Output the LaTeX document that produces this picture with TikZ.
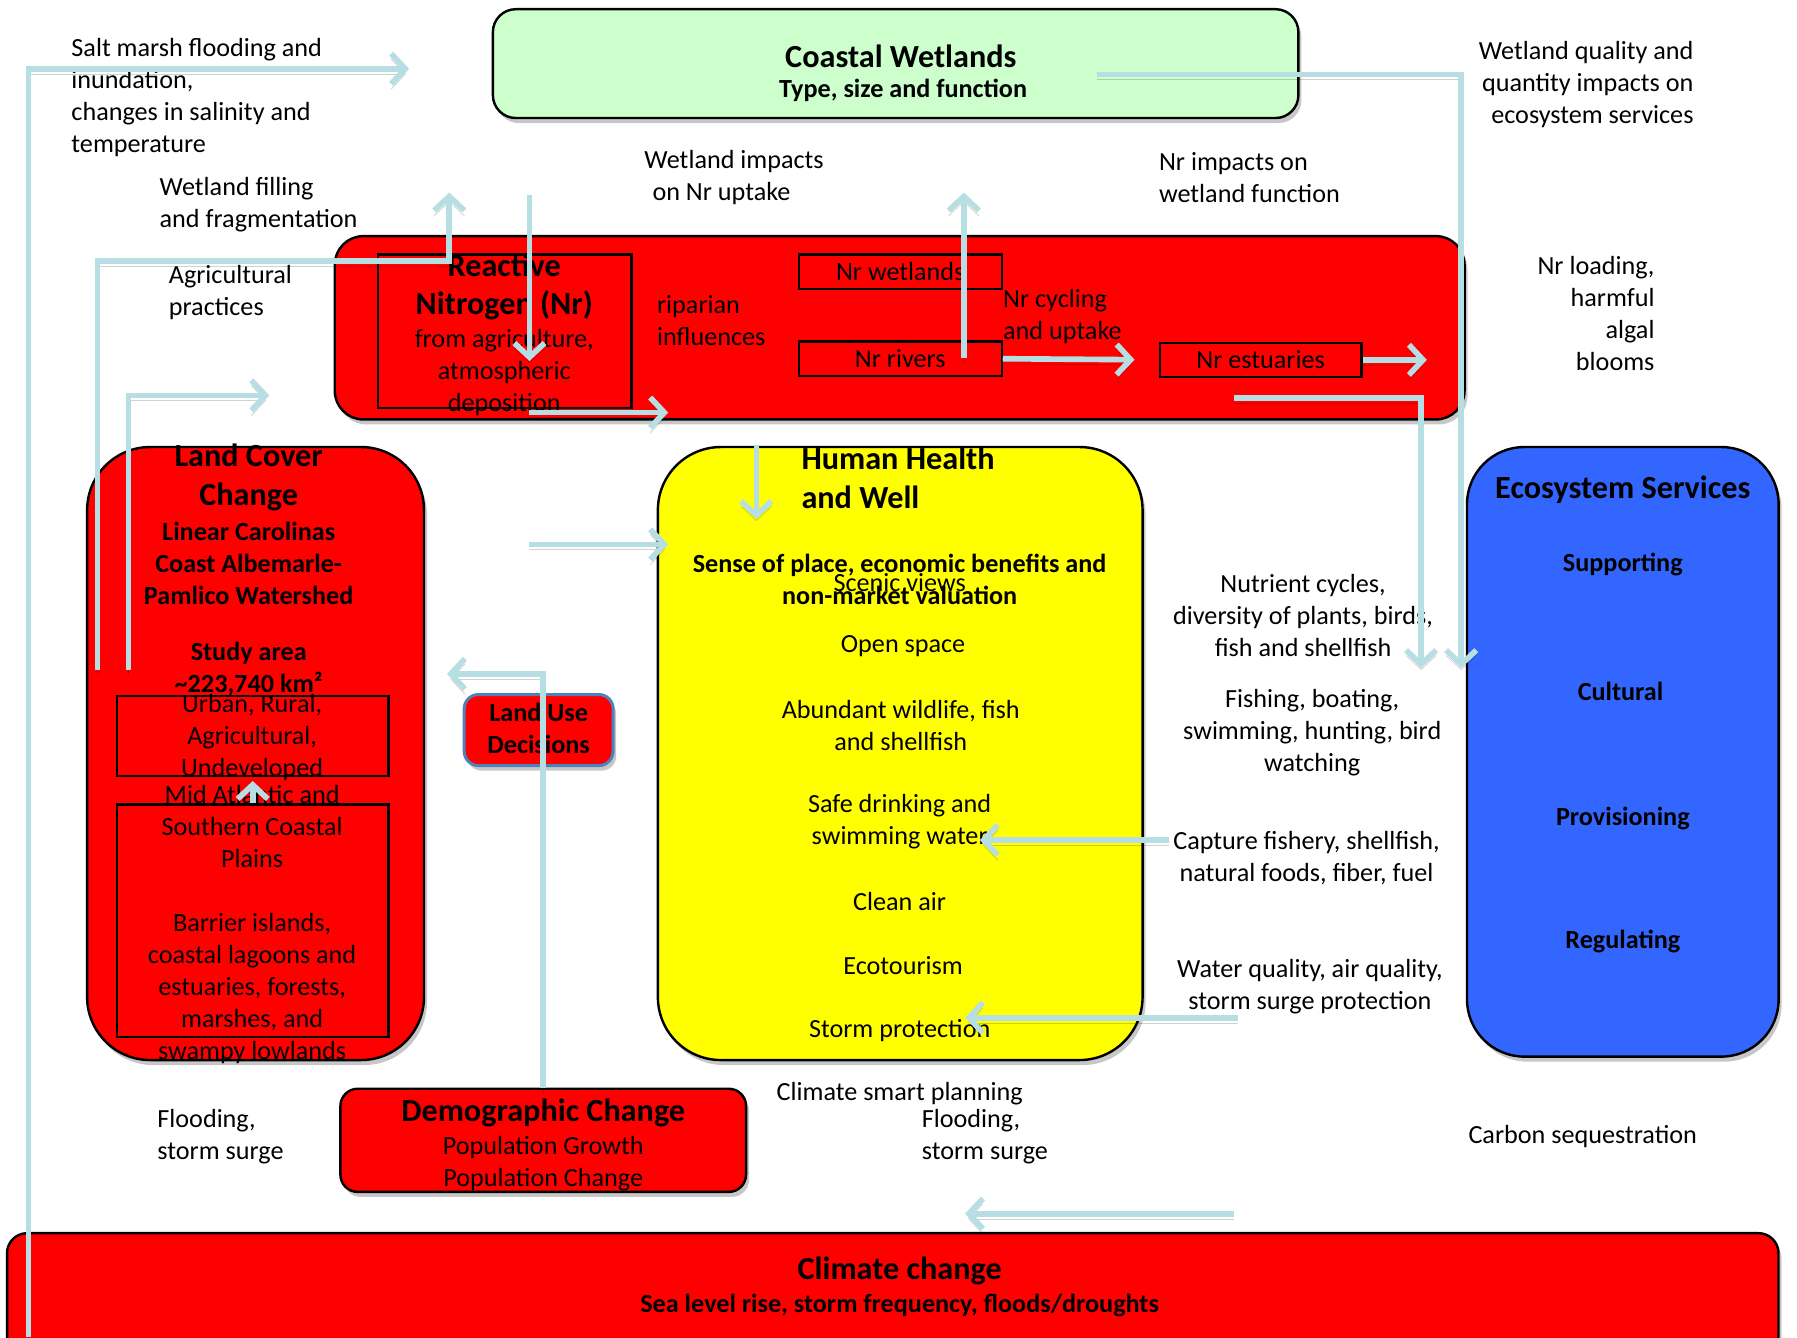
\documentclass[tikz,border=0pt]{standalone}
\usepackage{fontspec}
\setmainfont{Carlito}
\usepackage{tikz}
\usepackage{xcolor}
\usetikzlibrary{arrows.meta,shadows}

\definecolor{wetgreen}{HTML}{CCFFCC}
\definecolor{nred}{HTML}{FF0000}
\definecolor{hyellow}{HTML}{FFFF00}
\definecolor{esblue}{HTML}{3366FF}
\definecolor{flowblue}{HTML}{B7DEE3}
\definecolor{ludblue}{HTML}{4F81BD}

\newcommand{\bodyfont}{\fontsize{13}{15.9}\selectfont}
\newcommand{\headfont}{\fontsize{16}{19.4}\selectfont\bfseries}

\tikzset{
  panel/.style={draw=black, line width=1.2pt, inner sep=0pt,
    drop shadow={shadow xshift=1.5pt, shadow yshift=-2.5pt, fill=black!22, opacity=1}},
  inbox/.style={draw=black, line width=1.1pt, fill=nred, inner sep=0pt},
  lbl/.style={font=\bodyfont, align=center, inner sep=0pt, yshift=-1.1pt},
  blbl/.style={font=\bodyfont\bfseries, align=center, inner sep=0pt, yshift=-1.1pt},
  hlbl/.style={font=\headfont, align=center, inner sep=0pt, yshift=-1.1pt},
  flow/.style={line width=2.8pt, draw=flowblue, -{Straight Barb[length=7pt,width=15pt]},
    preaction={draw=black, draw opacity=0.18, transform canvas={yshift=-2.6pt}}}
}

\begin{document}
\begin{tikzpicture}[x=0.02cm, y=-0.02cm]
\useasboundingbox (0,0) rectangle (1568,1167);

% boxes
\node[panel, fill=wetgreen, rounded corners=0.4cm, minimum width=14.06cm, minimum height=1.9cm] (cw) at (781.5,55.5) {};
\node[panel, fill=nred, rounded corners=0.5cm, minimum width=19.72cm, minimum height=3.2cm] (nr) at (785,286) {};
\node[panel, fill=nred, rounded corners=1.1cm, minimum width=5.88cm, minimum height=10.7cm] (lcc) at (223,657.5) {};
\node[panel, fill=hyellow, rounded corners=1.1cm, minimum width=8.46cm, minimum height=10.7cm] (hh) at (785.5,657.5) {};
\node[panel, fill=esblue, rounded corners=1cm, minimum width=5.44cm, minimum height=10.64cm] (es) at (1416,656) {};
\node[panel, fill=nred, draw=ludblue, line width=1.5pt, rounded corners=0.25cm, minimum width=2.6cm, minimum height=1.24cm] (lud) at (470,637) {};
\node[panel, fill=nred, rounded corners=0.3cm, minimum width=7.08cm, minimum height=1.8cm] (dc) at (474,995) {};
\node[panel, fill=nred, rounded corners=0.35cm, minimum width=30.92cm, minimum height=2.28cm] (cc) at (779,1133) {};

\node[inbox, minimum width=4.42cm, minimum height=2.68cm] (nrsrc) at (440.5,289) {};
\node[inbox, minimum width=3.54cm, minimum height=0.6cm, font=\bodyfont] (nrwet) at (785.5,237) {Nr wetlands};
\node[inbox, minimum width=3.54cm, minimum height=0.6cm, font=\bodyfont] (nrriv) at (785.5,313) {Nr rivers};
\node[inbox, minimum width=3.52cm, minimum height=0.6cm, font=\bodyfont] (nrest) at (1100,314) {Nr estuaries};
\node[inbox, minimum width=4.74cm, minimum height=1.4cm] (lcuse) at (220.5,642) {};
\node[inbox, minimum width=4.74cm, minimum height=4.06cm] (lcreg) at (220.5,803.5) {};

% texts in boxes
\node[hlbl] (cwtitle) at (786,47) {Coastal Wetlands};
\node[blbl] (cwsub) at (788,77) {Type, size and function};

\node[hlbl, font=\fontsize{16}{18.8}\selectfont\bfseries] (nrhead) at (440,248.5) {Reactive\\Nitrogen (Nr)};
\node[lbl] (nrfrom) at (440,323) {from agriculture,\\atmospheric\\deposition};
\node[lbl, align=left, anchor=west] (riparian) at (573,278) {riparian\\influences};
\node[lbl, align=left, anchor=west] (cycling) at (875,274.5) {Nr cycling\\and uptake};

\node[hlbl] (lchead) at (217,415) {Land Cover\\Change};
\node[blbl] (lcsub) at (217,489.5) {Linear Carolinas\\Coast Albemarle-\\Pamlico Watershed};
\node[blbl] (lcarea) at (217,581.5) {Study area\\\textasciitilde223,740 km²};
\node[lbl] (lcusetxt) at (220,642) {Urban, Rural,\\Agricultural,\\Undeveloped};
\node[lbl] (lcregtxt) at (220,805) {Mid Atlantic and\\Southern Coastal\\Plains\\[15.9pt]Barrier islands,\\coastal lagoons and\\estuaries, forests,\\marshes, and\\swampy lowlands};

\node[blbl] (ludtxt) at (470,634) {Land Use\\Decisions};

\node[hlbl, align=left, anchor=west] (hhhead) at (699,415) {Human Health\\and Well};
\node[blbl] (hhsense) at (785,504) {Sense of place, economic benefits and\\non-market valuation};
\node[lbl] (hhscenic) at (785,506) {Scenic views};
\node[lbl] (hhopen) at (788,562) {Open space};
\node[lbl] (hhwild) at (786,631) {Abundant wildlife, fish\\and shellfish};
\node[lbl] (hhsafe) at (785,715) {Safe drinking and\\swimming water};
\node[lbl] (hhair) at (785,785) {Clean air};
\node[lbl] (hheco) at (788,841) {Ecotourism};
\node[lbl] (hhstorm) at (785,897) {Storm protection};

\node[hlbl] (eshead) at (1416,425) {Ecosystem Services};
\node[blbl] (essup) at (1416,491) {Supporting};
\node[blbl] (escul) at (1414,601) {Cultural};
\node[blbl] (esprov) at (1416,712) {Provisioning};
\node[blbl] (esreg) at (1416,820) {Regulating};

\node[hlbl] (dchead) at (474,969) {Demographic Change};
\node[lbl] (dcsub) at (474,1013) {Population Growth\\Population Change};
\node[hlbl] (cchead) at (785,1107) {Climate change};
\node[blbl] (ccsub) at (785,1137) {Sea level rise, storm frequency, floods/droughts};

% free labels
\node[lbl, align=left, anchor=west] (lsalt) at (62,83) {Salt marsh flooding and\\inundation,\\changes in salinity and\\temperature};
\node[lbl, align=left, anchor=west] (lfill) at (139,177) {Wetland filling\\and fragmentation};
\node[lbl, align=left, anchor=west] (lagri) at (147,253) {Agricultural\\practices};
\node[lbl, align=left, anchor=west] (lwimp) at (562,153) {Wetland impacts\\\hspace*{4pt}on Nr uptake};
\node[lbl, align=left, anchor=west] (lnimp) at (1011,153) {Nr impacts on\\wetland function};
\node[lbl, align=right, anchor=east] (lwq) at (1478,72) {Wetland quality and\\quantity impacts on\\ecosystem services};
\node[lbl, align=right, anchor=east] (lnload) at (1444,272) {Nr loading,\\harmful\\algal\\blooms};
\node[lbl] (lnutr) at (1137,535) {Nutrient cycles,\\diversity of plants, birds,\\fish and shellfish};
\node[lbl] (lfish) at (1145,637) {Fishing, boating,\\swimming, hunting, bird\\watching};
\node[lbl] (lcapt) at (1140,747) {Capture fishery, shellfish,\\natural foods, fiber, fuel};
\node[lbl] (lwater) at (1143,859) {Water quality, air quality,\\storm surge protection};
\node[lbl, align=left, anchor=west] (lflood) at (137,990) {Flooding,\\storm surge};
\node[lbl] (lsmart) at (785,952) {Climate smart planning};
\node[lbl, align=left, anchor=west] (lsurge) at (804,990) {Flooding,\\storm surge};
\node[lbl] (lcarbon) at (1381,990) {Carbon sequestration};

% connectors
\coordinate (saltfrom) at (25,1167);
\coordinate (saltto) at (357,60);
\coordinate (fillfrom) at (85,585);
\coordinate (fillbend) at (392,228);
\coordinate (fillto) at (392,168);
\coordinate (agrifrom) at (112,585);
\coordinate (agrito) at (235,345);
\coordinate (wimpfrom) at (462,170);
\coordinate (wimpto) at (462,315);
\coordinate (nroutfrom) at (462,360);
\coordinate (nroutto) at (583,360);
\coordinate (nimpfrom) at (841,312);
\coordinate (nimpto) at (841,168);
\coordinate (estto) at (1245,314);
\coordinate (nloadfrom) at (1077,347);
\coordinate (nloadto) at (1240,583);
\coordinate (wqfrom) at (957,65);
\coordinate (wqto) at (1275,583);
\coordinate (nrhhfrom) at (660,388);
\coordinate (nrhhto) at (660,453);
\coordinate (lchhfrom) at (462,475);
\coordinate (lchhto) at (583,475);
\coordinate (ludto) at (390,588);
\coordinate (provfrom) at (1020,733);
\coordinate (provto) at (855,733);
\coordinate (regfrom) at (1080,888);
\coordinate (regto) at (842,888);
\coordinate (ccfrom) at (1077,1059);
\coordinate (ccto) at (842,1059);

\draw[flow] (saltfrom) |- (saltto);
\draw[flow] (fillfrom) |- (fillbend) -- (fillto);
\draw[flow] (agrifrom) |- (agrito);
\draw[flow] (wimpfrom) -- (wimpto);
\draw[flow] (nroutfrom) -- (nroutto);
\draw[flow] (nimpfrom) -- (nimpto);
\draw[flow, shorten >=12pt] (nrriv.east) -- (nrest.west);
\draw[flow] (nrest.east) -- (estto);
\draw[flow] (nloadfrom) -| (nloadto);
\draw[flow] (wqfrom) -| (wqto);
\draw[flow] (nrhhfrom) -- (nrhhto);
\draw[flow] (lchhfrom) -- (lchhto);
\draw[flow] (dc.north) |- (ludto);
\draw[flow] (provfrom) -- (provto);
\draw[flow] (regfrom) -- (regto);
\draw[flow] (ccfrom) -- (ccto);
\draw[flow, shorten >=2pt] (lcreg.north) -- (lcuse.south);
\end{tikzpicture}
\end{document}
